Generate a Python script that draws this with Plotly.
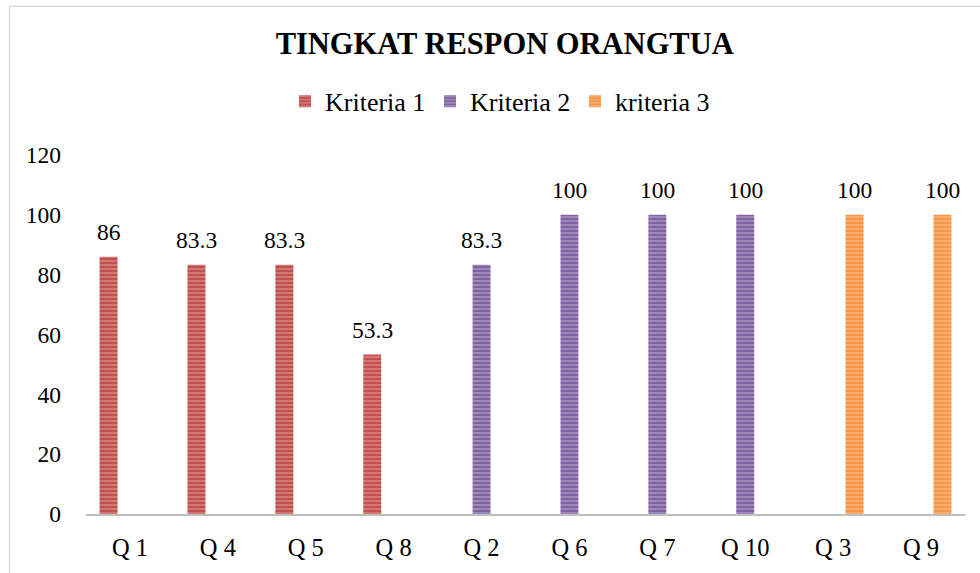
import plotly.graph_objects as go

categories = ["Q 1", "Q 4", "Q 5", "Q 8", "Q 2", "Q 6", "Q 7", "Q 10", "Q 3", "Q 9"]
kriteria1 = [86, 83.3, 83.3, 53.3, None, None, None, None, None, None]
kriteria2 = [None, None, None, None, 83.3, 100, 100, 100, None, None]
kriteria3 = [None, None, None, None, None, None, None, None, 100, 100]
series_names = ["Kriteria 1", "Kriteria 2", "kriteria 3"]
y_ticks = [0, 20, 40, 60, 80, 100, 120]

colors = ["#C0504D", "#8064A2", "#F79646"]
light = ["#E8A9A7", "#C2B3D6", "#FBC89E"]
FONT = "Liberation Serif"

W, H = 980, 573
ML, MR, MT, MB = 86, 15, 155, 57
BARGAP = 0.27
plot_w = W - ML - MR
plot_h = H - MT - MB
slot = plot_w / len(categories) * (1 - BARGAP) / 3

fig = go.Figure()
all_series = [kriteria1, kriteria2, kriteria3]
for i, (name, vals, c, lc) in enumerate(zip(series_names, all_series, colors, light)):
    fig.add_trace(go.Bar(
        x=categories, y=vals, name=name,
        marker=dict(color=c, line=dict(width=0),
                    pattern=dict(shape="-", fgcolor=lc, size=4, solidity=0.45)),
        hoverinfo="skip",
    ))
    for cat, v in zip(categories, vals):
        if v is None:
            continue
        fig.add_annotation(x=cat, y=v, text=f"{v:g}", showarrow=False,
                           xshift=(i - 1) * slot, yshift=25, yanchor="middle",
                           font=dict(family=FONT, size=23.5, color="#000000"))

fig.update_layout(
    width=W, height=H,
    margin=dict(l=ML, r=MR, t=MT, b=MB),
    paper_bgcolor="white", plot_bgcolor="white",
    barmode="group", bargap=BARGAP, bargroupgap=0.16,
    title=dict(text="<b>TINGKAT RESPON ORANGTUA</b>", x=0.515, xanchor="center",
               y=1 - 43 / H, yanchor="middle",
               font=dict(family=FONT, size=30.5, color="#000000")),
    legend=dict(orientation="h", x=(285 - ML) / plot_w, xanchor="left",
                y=1 + (MT - 101) / plot_h, yanchor="middle",
                font=dict(family=FONT, size=26, color="#000000"),
                entrywidth=100, entrywidthmode="pixels",
                traceorder="normal"),
    showlegend=True,
    font=dict(family=FONT, color="#000000"),
)
fig.update_xaxes(showline=True, linecolor="#BFBFBF", linewidth=2, showgrid=False,
                 ticks="", tickfont=dict(family=FONT, size=24.5, color="#000000"),
                 ticklabelstandoff=11)
fig.update_yaxes(range=[0, 120], tickvals=y_ticks, showgrid=False, zeroline=False,
                 showline=False, ticks="", ticklabelstandoff=24,
                 tickfont=dict(family=FONT, size=23.5, color="#000000"))
fig.add_shape(type="rect", xref="paper", yref="paper",
              x0=(9.5 - ML) / plot_w, x1=1.2, y0=-0.5, y1=1 + (MT - 5.5) / plot_h,
              line=dict(color="#D9D9D9", width=1.5), layer="below")
fig.write_html("out.html", config={"displayModeBar": False},
               post_script="document.body.style.margin='0';")
